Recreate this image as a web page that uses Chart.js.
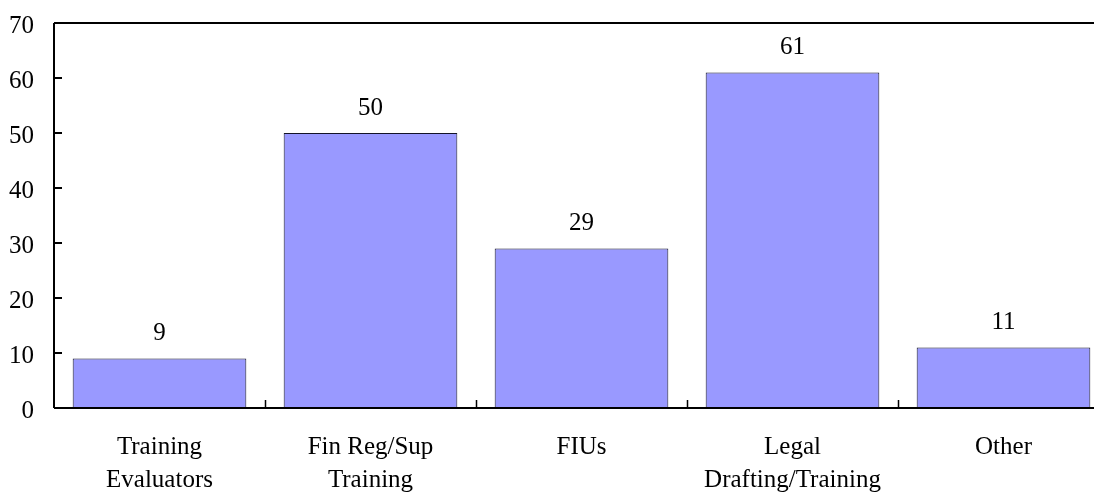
<!DOCTYPE html>
<html>
<head>
<meta charset="utf-8">
<script src="https://cdn.jsdelivr.net/npm/chart.js@4.4.1/dist/chart.umd.min.js"></script>
<style>
  html, body { margin: 0; padding: 0; background: #ffffff; overflow: hidden; }
  #wrap { width: 1094px; height: 493px; overflow: hidden; }
  canvas { display: block; }
</style>
</head>
<body>
<div id="wrap"><canvas id="chart" width="1120" height="493"></canvas></div>
<script>
// Technical assistance areas and number of activities in each
const categories = [
  ['Training', 'Evaluators'],
  ['Fin Reg/Sup', 'Training'],
  ['FIUs'],
  ['Legal', 'Drafting/Training'],
  ['Other']
];
const counts = [9, 50, 29, 61, 11];
const yTicks = [0, 10, 20, 30, 40, 50, 60, 70];

const FONT = "'Liberation Serif', 'Times New Roman', serif";

// Frame: left axis, bottom axis, top border and inward tick marks
const framePlugin = {
  id: 'frame',
  afterDraw(chart) {
    const { ctx, chartArea: a, scales } = chart;
    const x = scales.x, y = scales.y;
    ctx.save();
    ctx.strokeStyle = '#000000';
    ctx.lineWidth = 2;
    ctx.beginPath();
    ctx.moveTo(a.left, a.top); ctx.lineTo(chart.width, a.top);
    ctx.moveTo(a.left, a.top); ctx.lineTo(a.left, a.bottom);
    ctx.moveTo(a.left, a.bottom); ctx.lineTo(chart.width, a.bottom);
    ctx.stroke();
    // y ticks, pointing into the plot
    ctx.beginPath();
    yTicks.forEach(v => {
      const py = Math.round(y.getPixelForValue(v));
      ctx.moveTo(a.left, py); ctx.lineTo(a.left + 8, py);
    });
    ctx.stroke();
    // category separators on the bottom axis, pointing up
    ctx.lineWidth = 1.5;
    ctx.beginPath();
    for (let i = 1; i < categories.length; i++) {
      const px = Math.round((x.getPixelForValue(i - 1) + x.getPixelForValue(i)) / 2) + 0.5;
      ctx.moveTo(px, a.bottom); ctx.lineTo(px, a.bottom - 8);
    }
    ctx.stroke();
    ctx.restore();
  }
};

// Value printed above each bar
const valueLabels = {
  id: 'valueLabels',
  afterDatasetsDraw(chart) {
    const { ctx } = chart;
    const meta = chart.getDatasetMeta(0);
    ctx.save();
    ctx.font = '25px ' + FONT;
    ctx.fillStyle = '#000000';
    ctx.textAlign = 'center';
    ctx.textBaseline = 'middle';
    meta.data.forEach((bar, i) => {
      ctx.fillText(String(counts[i]), bar.x, bar.y - 25);
    });
    ctx.restore();
  }
};

new Chart(document.getElementById('chart'), {
  type: 'bar',
  data: {
    labels: categories,
    datasets: [{
      data: counts,
      backgroundColor: '#9999ff',
      borderColor: '#141428',
      borderWidth: 1,
      borderSkipped: false,
      categoryPercentage: 1.0,
      barPercentage: 0.823
    }]
  },
  options: {
    responsive: false,
    animation: false,
    layout: { padding: { top: 23, right: 11, left: 0, bottom: 0 } },
    plugins: { legend: { display: false }, tooltip: { enabled: false } },
    scales: {
      x: {
        grid: { display: false, drawTicks: false },
        border: { display: false },
        ticks: {
          color: '#000000',
          font: { family: FONT, size: 25, lineHeight: 1.32 },
          padding: 23,
          maxRotation: 0,
          autoSkip: false
        },
        afterFit(scale) { scale.height = 85; }
      },
      y: {
        min: 0,
        max: 70,
        grid: { display: false, drawTicks: false },
        border: { display: false },
        ticks: {
          stepSize: 10,
          color: '#000000',
          font: { family: FONT, size: 25 },
          padding: 20,
          labelOffset: 3
        },
        afterFit(scale) {
          scale.width = 54;
          scale.paddingTop = 0;
          scale.paddingBottom = 0;
        }
      }
    }
  },
  plugins: [framePlugin, valueLabels]
});
</script>
</body>
</html>
